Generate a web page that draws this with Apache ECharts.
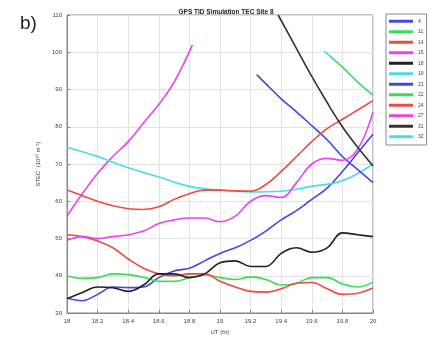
<!DOCTYPE html>
<html>
<head>
<meta charset="utf-8">
<title>GPS TID Simulation TEC Site 8</title>
<script src="https://cdn.jsdelivr.net/npm/echarts@6/dist/echarts.min.js"></script>
<style>
  html, body { margin: 0; padding: 0; background: #fff; }
  #chart { width: 438px; height: 342px; }
</style>
</head>
<body>
<div id="chart"></div>
<script>
// satellite ids shown in the legend
var prnNames = ['4', '11', '14', '15', '18', '19', '21', '22', '24', '27', '31', '32'];
var prnColors = ['#4646e4', '#40da58', '#ec4c3c', '#ec42ec', '#222222', '#48dcec',
                 '#4646e4', '#40da58', '#ec4c3c', '#ec42ec', '#333333', '#48dcec'];

// [UT hr, STEC]
var prn4  = [[18,34],[18.1,33.3],[18.2,35],[18.3,37],[18.4,36.8],[18.5,37],[18.6,39.5],[18.7,41.3],[18.8,42],[18.9,44],[19,46],[19.1,47.5],[19.2,49.5],[19.3,52],[19.4,55],[19.5,57.5],[19.6,60.5],[19.7,63.5],[19.8,68],[19.9,73],[20,78]];
var prn11 = [[18,40],[18.1,39.3],[18.2,39.5],[18.3,40.5],[18.4,40.3],[18.5,39.6],[18.6,38.5],[18.7,38.5],[18.8,39.5],[18.9,40.2],[19,39.5],[19.1,39],[19.2,39.7],[19.3,39],[19.4,37.5],[19.5,38],[19.6,39.5],[19.7,39.5],[19.8,37.8],[19.9,37],[20,38.3]];
var prn14 = [[18,51],[18.1,50.5],[18.2,49.3],[18.3,47.5],[18.4,44.5],[18.5,42],[18.6,40.5],[18.7,40],[18.8,40.5],[18.9,40.5],[19,38.5],[19.1,37],[19.2,35.8],[19.3,35.6],[19.4,36.5],[19.5,38],[19.6,38.2],[19.7,36.5],[19.8,35],[19.9,35.3],[20,36.7]];
var prn15 = [[18,56],[18.1,62],[18.2,67.5],[18.3,72],[18.4,76],[18.5,81],[18.6,86],[18.7,92],[18.82,102]];
var prn18 = [[18,33.8],[18.1,35.5],[18.2,37],[18.3,36.8],[18.4,35.8],[18.5,37.5],[18.6,40.5],[18.7,40.5],[18.8,39.5],[18.9,40.5],[19,43.5],[19.1,44],[19.2,42.5],[19.3,42.5],[19.4,46],[19.5,47.5],[19.6,46.3],[19.7,47.5],[19.8,51.5],[19.9,51],[20,50.5]];
var prn19 = [[18,74.5],[18.2,72],[18.4,69],[18.6,66.5],[18.8,64],[19,63],[19.2,62.5],[19.4,62.7],[19.6,64],[19.8,65.5],[20,70]];
var prn21 = [[19.24,94],[19.3,91.5],[19.4,87.5],[19.5,84],[19.6,80.3],[19.7,76.5],[19.8,72],[19.9,68.5],[20,65]];
var prn22 = [[19.72,98.8],[19.8,96],[19.9,92],[20,88.5]];
var prn24 = [[18,63],[18.1,61.5],[18.2,60],[18.3,58.8],[18.4,58],[18.5,57.8],[18.6,58.5],[18.7,60.5],[18.8,62],[18.9,63],[19,63],[19.1,62.8],[19.2,62.7],[19.3,64.5],[19.4,68],[19.5,72],[19.6,76],[19.7,79.5],[19.8,82],[19.9,84.5],[20,87]];
var prn27 = [[18,49.5],[18.1,50.5],[18.2,50],[18.3,50.5],[18.4,51],[18.5,52],[18.6,54],[18.7,55],[18.8,55.5],[18.9,55.5],[19,54.5],[19.1,56],[19.2,60],[19.3,61.5],[19.4,61],[19.5,65],[19.6,70],[19.7,71.5],[19.8,71],[19.9,74],[20,84]];
var prn31 = [[19.38,110],[19.5,101],[19.6,93.5],[19.7,86.5],[19.8,80],[19.9,74.5],[20,69.5]];
var prn32 = [[19.68,100.3],[19.74,98.3]];

var seriesData = [prn4, prn11, prn14, prn15, prn18, prn19, prn21, prn22, prn24, prn27, prn31, prn32];

var myChart = echarts.init(document.getElementById('chart'));

var series = [];
for (var i = 0; i < prnNames.length; i++) {
  series.push({
    name: prnNames[i],
    type: 'line',
    data: seriesData[i],
    smooth: 0.4,
    showSymbol: false,
    lineStyle: { width: 1.6, color: prnColors[i] },
    itemStyle: { color: prnColors[i] }
  });
}

var labelStyle = { fontSize: 6, color: '#444', fontFamily: 'Liberation Sans' };

var option = {
  animation: false,
  title: {
    text: 'GPS TID Simulation TEC Site 8',
    left: 221, top: 4, textAlign: 'center',
    textStyle: { fontSize: 6.5, fontWeight: 'bold', color: '#222', fontFamily: 'Liberation Sans' }
  },
  graphic: [{
    type: 'text', left: 20, top: 14,
    style: { text: 'b)', fontSize: 19, fill: '#222', fontFamily: 'Liberation Sans' }
  }],
  legend: {
    orient: 'vertical',
    left: 386, top: 14,
    padding: [2, 3, 3, 3],
    itemWidth: 24, itemHeight: 3, itemGap: 0,
    icon: 'rect',
    borderColor: '#888', borderWidth: 1,
    textStyle: { fontSize: 5, color: '#444', lineHeight: 10.5, fontFamily: 'Liberation Sans' },
    data: prnNames
  },
  grid: {
    left: 67, right: 65, top: 15, bottom: 29,
    show: true, borderColor: '#888', borderWidth: 1
  },
  xAxis: {
    type: 'value', min: 18, max: 20, interval: 0.2,
    name: 'UT (hr)', nameLocation: 'middle', nameGap: 16,
    nameTextStyle: labelStyle,
    axisLine: { show: true, lineStyle: { color: '#888' } },
    axisTick: { show: true, inside: true, length: 3, lineStyle: { color: '#888' } },
    axisLabel: { fontSize: 6, color: '#444', margin: 5 },
    splitLine: { show: true, lineStyle: { color: '#e2e2e2' } }
  },
  yAxis: {
    type: 'value', min: 30, max: 110, interval: 10,
    name: 'STEC  (10¹⁶ m⁻²)', nameLocation: 'middle', nameGap: 17,
    nameTextStyle: labelStyle,
    axisLine: { show: true, lineStyle: { color: '#888' } },
    axisTick: { show: true, inside: true, length: 3, lineStyle: { color: '#888' } },
    axisLabel: { fontSize: 6, color: '#444', margin: 5 },
    splitLine: { show: true, lineStyle: { color: '#e2e2e2' } }
  },
  series: series
};

myChart.setOption(option);
</script>
</body>
</html>
